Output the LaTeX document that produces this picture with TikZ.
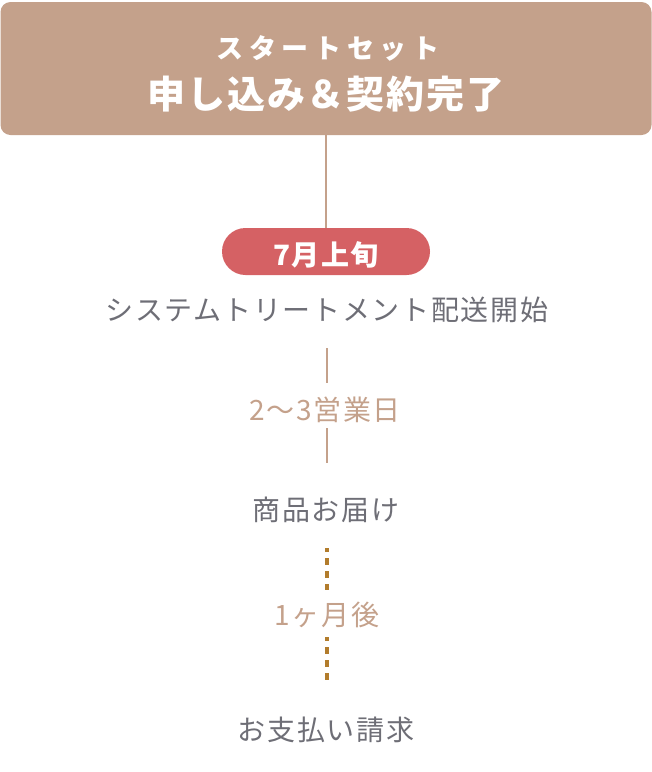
\documentclass[tikz,border=0pt]{standalone}
\usepackage{fontspec}
\newfontfamily\jpreg[LetterSpace=6]{Noto Sans CJK JP}
\newfontfamily\jpsub[LetterSpace=21]{Noto Sans CJK JP}
\newfontfamily\jpbig[LetterSpace=5]{Noto Sans CJK JP}
\newfontfamily\jppill[LetterSpace=4]{Noto Sans CJK JP}
\definecolor{tan}{HTML}{C4A18B}
\definecolor{pillred}{HTML}{D56164}
\definecolor{txtgray}{HTML}{6E6E76}
\definecolor{gold}{HTML}{B27C2C}
\tikzset{
  lbl/.style={inner sep=0pt, anchor=base, text height=20pt, text depth=4pt,
    font=\jpreg\fontsize{28pt}{32pt}\selectfont},
  steptext/.style={lbl, text=txtgray},
  gaptext/.style={lbl, text=tan},
  solidline/.style={draw=tan, line width=1.5pt},
  dotline/.style={draw=gold, line width=3.5pt, dash pattern=on 6.5pt off 6.5pt, dash phase=3pt},
  startbox/.style={fill=tan, rounded corners=10pt, minimum width=651pt, minimum height=133pt, inner sep=0pt},
  whitetext/.style={text=white, inner sep=0pt, anchor=base},
  pillbox/.style={fill=pillred, rounded corners=23.5pt, minimum width=208pt, minimum height=47pt,
    inner sep=0pt, text height=27pt, text depth=0pt, text=white,
    font=\jppill\bfseries\fontsize{28pt}{32pt}\selectfont}
}
\begin{document}
\begin{tikzpicture}[x=1pt,y=-1pt]
\useasboundingbox (0,0) rectangle (652,772);
\node[startbox] (start) at (326,68.5) {};
\node[whitetext, font=\jpsub\bfseries\fontsize{27pt}{30pt}\selectfont] (startsub) at (328,58.5) {スタートセット};
\node[whitetext, font=\jpbig\bfseries\fontsize{38pt}{42pt}\selectfont] (starttitle) at (326,108) {申し込み＆契約完了};
\node[pillbox] (pill) at (326,251.5) {7月上旬};
\node[steptext] (sys) at (327,320) {システムトリートメント配送開始};
\node[gaptext] (days) at (325,420.5) {2〜3営業日};
\node[steptext] (goods) at (326,520.5) {商品お届け};
\node[gaptext] (month) at (327,625.5) {1ヶ月後};
\node[steptext] (pay) at (326,740.5) {お支払い請求};
\draw[solidline] (pill.north |- start.south) -- (pill.north);
\draw[solidline, shorten <=24pt, shorten >=17.5pt] (sys.south) -- (sys.south |- days.north);
\draw[solidline, shorten <=3.5pt, shorten >=37.5pt] (sys.south |- days.south) -- (sys.south |- goods.north);
\draw[dotline, shorten <=23.5pt, shorten >=15.5pt] (sys.south |- goods.south) -- (sys.south |- month.north);
\draw[dotline, shorten <=7.5pt, shorten >=35.5pt] (sys.south |- month.south) -- (sys.south |- pay.north);
\end{tikzpicture}
\end{document}
